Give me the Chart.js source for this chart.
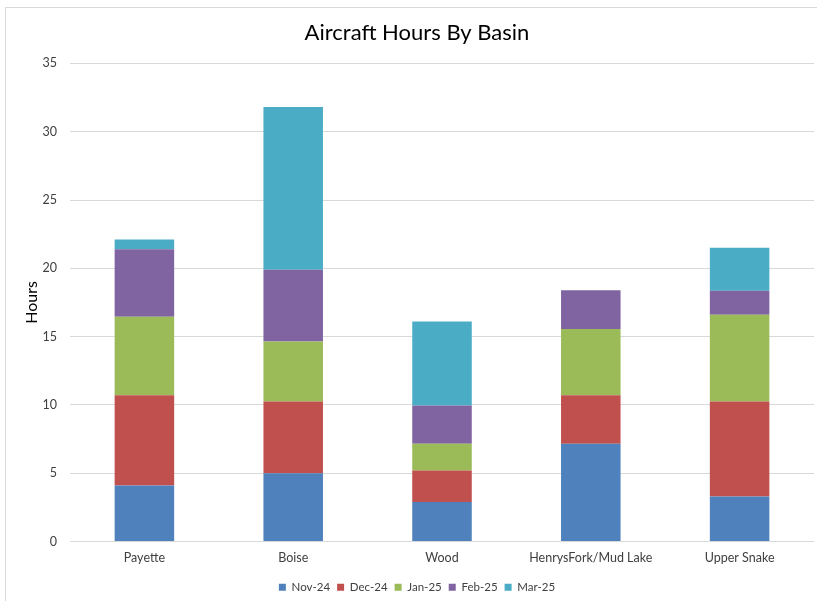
<!DOCTYPE html>
<html>
<head>
<meta charset="utf-8">
<script src="https://cdn.jsdelivr.net/npm/chart.js@4/dist/chart.umd.min.js"></script>
<style>
  html, body { margin: 0; padding: 0; background: #fff; }
  #wrap { width: 817px; height: 601px; position: relative; }
</style>
</head>
<body>
<div id="wrap"><canvas id="basinChart"></canvas></div>
<script>
const basins = ["Payette", "Boise", "Wood", "HenrysFork/Mud Lake", "Upper Snake"];
const nov24 = [4.1, 5.0, 2.9, 7.15, 3.3];
const dec24 = [6.6, 5.25, 2.3, 3.55, 6.95];
const jan25 = [5.75, 4.4, 1.95, 4.85, 6.35];
const feb25 = [4.95, 5.25, 2.8, 2.85, 1.75];
const mar25 = [0.7, 11.9, 6.15, 0, 3.15];
const yTicks = [0, 5, 10, 15, 20, 25, 30, 35];

const FONT = "Lato, 'Open Sans', sans-serif";

const frame = {
  id: "frame",
  beforeDraw: (chart) => {
    const ctx = chart.ctx;
    ctx.save();
    ctx.fillStyle = "white";
    ctx.fillRect(0, 0, chart.width, chart.height);
    ctx.strokeStyle = "#d9d9d9";
    ctx.lineWidth = 1;
    ctx.strokeRect(5.5, 7.5, 900, 900);
    ctx.restore();
  },
};

function series(label, data, color) {
  return {
    label: label,
    data: data,
    backgroundColor: color,
    borderWidth: 0,
    categoryPercentage: 0.4,
    barPercentage: 1.0,
  };
}

new Chart(document.getElementById("basinChart"), {
  type: "bar",
  data: {
    labels: basins,
    datasets: [
      series("Nov-24", nov24, "#4F81BD"),
      series("Dec-24", dec24, "#C0504D"),
      series("Jan-25", jan25, "#9BBB59"),
      series("Feb-25", feb25, "#8064A2"),
      series("Mar-25", mar25, "#4BACC6"),
    ],
  },
  plugins: [frame],
  options: {
    responsive: true,
    maintainAspectRatio: false,
    animation: false,
    // left padding wider so the title centres over the frame like the original
    layout: { padding: { left: 20, right: 3, top: 11, bottom: -2 } },
    scales: {
      x: {
        stacked: true,
        grid: { display: false, drawTicks: false },
        border: { display: false },
        ticks: {
          padding: 9,
          color: "#404040",
          font: { family: FONT, size: 12.5 },
          maxRotation: 0,
        },
      },
      y: {
        stacked: true,
        min: 0,
        max: 35,
        afterBuildTicks: (axis) => {
          axis.ticks = yTicks.map((v) => ({ value: v }));
        },
        afterFit: (axis) => {
          axis.width = 50;
        },
        grid: { color: "#d9d9d9", drawTicks: false, lineWidth: 1 },
        border: { display: false },
        ticks: {
          padding: 13,
          color: "#404040",
          font: { family: FONT, size: 12.5 },
        },
        title: {
          display: true,
          text: "Hours",
          color: "#000",
          font: { family: FONT, size: 16 },
          padding: { top: 2, bottom: 0 },
        },
      },
    },
    plugins: {
      title: {
        display: true,
        text: "Aircraft Hours By Basin",
        color: "#000",
        font: { family: FONT, size: 22, weight: "normal" },
        padding: { top: 9, bottom: 17 },
      },
      legend: {
        position: "bottom",
        labels: {
          boxWidth: 7,
          boxHeight: 7,
          padding: 7,
          color: "#404040",
          font: { family: FONT, size: 11.5 },
        },
      },
      tooltip: { enabled: false },
    },
  },
});
</script>
</body>
</html>
